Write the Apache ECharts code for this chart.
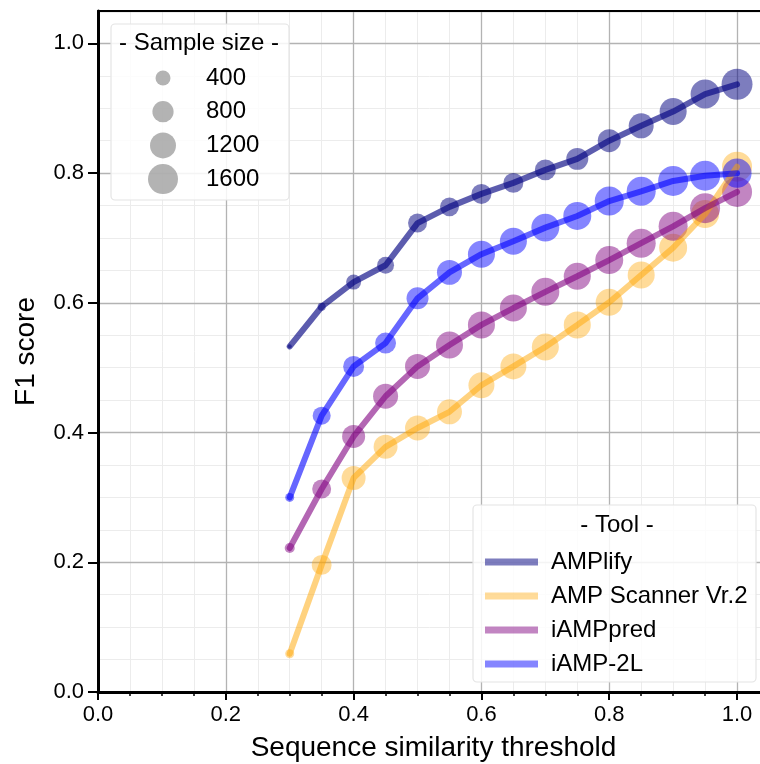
<!DOCTYPE html>
<html lang="en">
<head>
    <meta charset="UTF-8">
    <title>F1 score vs sequence similarity</title>
    <style>
        html, body {
            margin: 0;
            padding: 0;
            background: #fff;
        }

        #main {
            width: 760px;
            height: 764px;
        }
    </style>
</head>
<body>
<div id="main"></div>

<script src="https://cdn.jsdelivr.net/npm/echarts@6/dist/echarts.min.js"></script>
<script>
  // similarity thresholds (x)
  var thresholds = [0.3, 0.35, 0.4, 0.45, 0.5, 0.55, 0.6, 0.65, 0.7, 0.75, 0.8, 0.85, 0.9, 0.95, 1.0];

  var tools = ['AMPlify', 'AMP Scanner Vr.2', 'iAMPpred', 'iAMP-2L'];

  // F1 score per tool
  var f1Amplify = [0.533, 0.594, 0.632, 0.658, 0.723, 0.748, 0.768, 0.785, 0.805, 0.822, 0.850, 0.873, 0.895, 0.922, 0.937];
  var f1Scanner = [0.059, 0.196, 0.330, 0.378, 0.407, 0.432, 0.473, 0.502, 0.532, 0.566, 0.601, 0.643, 0.685, 0.737, 0.810];
  var f1Iampred = [0.222, 0.313, 0.394, 0.456, 0.502, 0.535, 0.566, 0.592, 0.617, 0.641, 0.666, 0.692, 0.718, 0.746, 0.771];
  var f1Iamp2l = [0.300, 0.426, 0.502, 0.538, 0.607, 0.647, 0.675, 0.695, 0.716, 0.734, 0.757, 0.772, 0.788, 0.796, 0.800];

  // sample size per tool
  var nAmplify = [30, 115, 400, 510, 640, 640, 710, 710, 780, 860, 940, 1110, 1300, 1500, 1700];
  var nScanner = [145, 710, 1020, 1020, 1110, 1110, 1200, 1200, 1300, 1300, 1300, 1300, 1390, 1390, 1600];
  var nIampred = [180, 640, 940, 1110, 1110, 1300, 1300, 1300, 1390, 1300, 1390, 1500, 1500, 1600, 1600];
  var nIamp2l = [145, 580, 780, 780, 860, 1110, 1300, 1300, 1390, 1390, 1500, 1500, 1600, 1600, 1500];

  var sizeBreaks = [400, 800, 1200, 1600];

  var toolColors = ['rgba(0,0,128,0.64)', 'rgba(255,165,0,0.5)', 'rgba(128,0,128,0.6)', 'rgba(0,0,255,0.6)'];
  var f1All = [f1Amplify, f1Scanner, f1Iampred, f1Iamp2l];
  var nAll = [nAmplify, nScanner, nIampred, nIamp2l];

  var fontFamily = '"Liberation Sans", Arial, sans-serif';

  // diameter grows with sqrt of sample size
  function dotSize(n) {
    return 0.75 * Math.sqrt(n);
  }

  var myChart = echarts.init(document.getElementById('main'));

  var series = [];
  tools.forEach(function (tool, i) {
    var pts = thresholds.map(function (x, j) {
      return [x, f1All[i][j], nAll[i][j]];
    });
    series.push({
      name: tool,
      type: 'scatter',
      z: 2,
      data: pts,
      symbolSize: function (val) {
        return dotSize(val[2]);
      },
      itemStyle: {color: toolColors[i]},
      silent: true
    });
  });
  tools.forEach(function (tool, i) {
    series.push({
      name: tool,
      type: 'line',
      z: 3,
      data: thresholds.map(function (x, j) {
        return [x, f1All[i][j]];
      }),
      symbol: 'none',
      lineStyle: {color: toolColors[i], width: 6, cap: 'round'},
      silent: true
    });
  });

  // legend boxes, sample-size legend drawn by hand
  var graphics = [
    {
      type: 'rect', z: 5,
      shape: {x: 111, y: 24, width: 178, height: 176, r: 4},
      style: {fill: 'rgba(255,255,255,0.85)', stroke: '#e4e4e4', lineWidth: 1.2}
    },
    {
      type: 'text', z: 6, x: 199, y: 43,
      style: {
        text: '- Sample size -', fill: '#000', font: '24px ' + fontFamily,
        textAlign: 'center', textVerticalAlign: 'middle'
      }
    },
    {
      type: 'rect', z: 5,
      shape: {x: 473, y: 505, width: 283, height: 177, r: 4},
      style: {fill: 'rgba(255,255,255,0.85)', stroke: '#e4e4e4', lineWidth: 1.2}
    },
    {
      type: 'text', z: 6, x: 617, y: 525,
      style: {
        text: '- Tool -', fill: '#000', font: '24px ' + fontFamily,
        textAlign: 'center', textVerticalAlign: 'middle'
      }
    }
  ];
  sizeBreaks.forEach(function (n, k) {
    var cy = 78 + k * 33.7;
    graphics.push({
      type: 'circle', z: 6,
      shape: {cx: 163, cy: cy, r: dotSize(n) / 2},
      style: {fill: 'rgba(128,128,128,0.6)'}
    });
    graphics.push({
      type: 'text', z: 6, x: 206, y: cy,
      style: {text: String(n), fill: '#000', font: '24px ' + fontFamily, textVerticalAlign: 'middle'}
    });
  });

  // plot runs past the right edge of the canvas, like the reference
  var xMax = 1.05;
  var option = {
    backgroundColor: '#fff',
    animation: false,
    textStyle: {fontFamily: fontFamily},
    grid: {left: 98, right: -9, top: 11, bottom: 72, outerBoundsMode: 'none', containLabel: false},
    legend: {
      orient: 'vertical',
      left: 480,
      top: 545,
      z: 10,
      itemWidth: 53,
      itemHeight: 7,
      itemGap: 10,
      selectedMode: false,
      textStyle: {fontSize: 24, color: '#000', padding: [0, 0, 0, 8], fontFamily: fontFamily},
      data: tools.map(function (t, i) {
        return {name: t, icon: 'rect', itemStyle: {color: toolColors[i]}};
      })
    },
    xAxis: [
      {
        // minor grid
        type: 'value', min: 0, max: xMax, interval: 0.05, position: 'bottom', z: 0,
        axisLine: {show: false},
        axisTick: {show: true, length: 4, lineStyle: {color: '#000', width: 1.5}},
        axisLabel: {show: false},
        splitLine: {show: true, showMaxLine: false, lineStyle: {color: '#ececec', width: 1}}
      },
      {
        type: 'value', min: 0, max: xMax, interval: 0.2, position: 'bottom', z: 1,
        name: 'Sequence similarity threshold',
        nameLocation: 'middle',
        nameGap: 42,
        nameTextStyle: {fontSize: 28, color: '#000'},
        axisLine: {show: true, onZero: false, lineStyle: {color: '#000', width: 3}},
        axisTick: {show: true, length: 8, lineStyle: {color: '#000', width: 2}},
        axisLabel: {
          fontSize: 22, color: '#000', margin: 12, showMaxLabel: false,
          formatter: function (v) {
            return v.toFixed(1);
          }
        },
        splitLine: {show: true, showMaxLine: false, lineStyle: {color: '#b3b3b3', width: 1.3}}
      },
      {
        // top frame line
        type: 'value', min: 0, max: xMax, position: 'top', z: 1,
        axisLine: {show: true, onZero: false, lineStyle: {color: '#000', width: 2}},
        axisTick: {show: false},
        axisLabel: {show: false},
        splitLine: {show: false}
      }
    ],
    yAxis: [
      {
        type: 'value', min: 0, max: 1.05, interval: 0.05, position: 'left', z: 0,
        axisLine: {show: false},
        axisTick: {show: false},
        axisLabel: {show: false},
        splitLine: {show: true, lineStyle: {color: '#ececec', width: 1}}
      },
      {
        type: 'value', min: 0, max: 1.05, interval: 0.2, position: 'left', z: 1,
        name: 'F1 score',
        nameLocation: 'middle',
        nameGap: 58,
        nameTextStyle: {fontSize: 28, color: '#000'},
        axisLine: {show: true, onZero: false, lineStyle: {color: '#000', width: 3}},
        axisTick: {show: true, length: 10, lineStyle: {color: '#000', width: 2}},
        axisLabel: {
          fontSize: 22, color: '#000', margin: 14, showMaxLabel: false,
          formatter: function (v) {
            return v.toFixed(1);
          }
        },
        splitLine: {show: true, lineStyle: {color: '#b3b3b3', width: 1.3}}
      }
    ],
    graphic: graphics,
    series: series.map(function (s) {
      s.xAxisIndex = 1;
      s.yAxisIndex = 1;
      return s;
    })
  };

  myChart.setOption(option);
</script>
</body>
</html>
